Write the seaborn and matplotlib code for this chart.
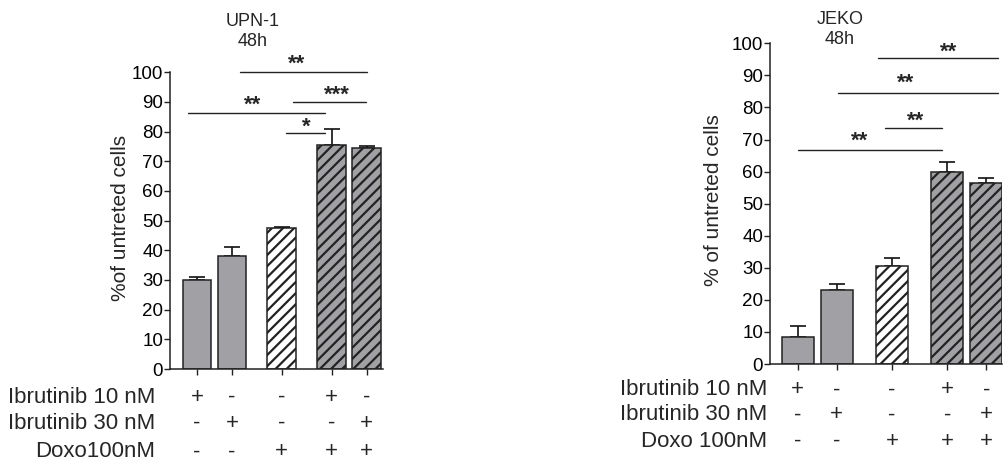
import matplotlib
matplotlib.use("Agg")
import matplotlib.pyplot as plt
import matplotlib.transforms as mtrans
import seaborn as sns
import pandas as pd

sns.set_theme(style="ticks")
plt.rcParams['font.family'] = ['Liberation Sans', 'DejaVu Sans']
plt.rcParams['hatch.linewidth'] = 1.6
plt.rcParams['hatch.color'] = '#111111'

# ---------------- data ----------------
conditions = ["Ibr10", "Ibr30", "Doxo", "Ibr10+Doxo", "Ibr30+Doxo"]
upn_values = [30.0, 38.0, 47.5, 75.5, 74.5]
upn_err = [1.0, 3.0, 0.5, 5.5, 0.5]
jeko_values = [8.5, 23.0, 30.5, 60.0, 56.5]
jeko_err = [3.5, 2.0, 2.5, 3.0, 1.5]

ibr10_signs = ["+", "-", "-", "+", "-"]
ibr30_signs = ["-", "+", "-", "-", "+"]
doxo_signs = ["-", "-", "+", "+", "+"]

upn_row_labels = ["Ibrutinib 10 nM", "Ibrutinib 30 nM", "Doxo100nM"]
jeko_row_labels = ["Ibrutinib 10 nM", "Ibrutinib 30 nM", "Doxo 100nM"]

# significance: (x_start, x_end, y, label, star_x, star_center_y)
upn_sig = [
    (1.23, 4.86, 100.0, "**", 2.85, 103.8),
    (2.73, 4.83, 90.0, "***", 3.99, 93.5),
    (-0.27, 3.66, 86.3, "**", 1.60, 90.0),
    (2.54, 3.66, 79.6, "*", 3.11, 82.6),
]
jeko_sig = [
    (2.07, 5.13, 95.3, "**", 3.86, 98.2),
    (1.04, 5.14, 84.4, "**", 2.78, 88.5),
    (2.24, 3.71, 73.5, "**", 3.03, 76.8),
    (0.02, 3.71, 66.7, "**", 1.60, 70.4),
]

# ---------------- layout ----------------
positions = [0.0, 1.0, 2.42, 3.84, 4.84]
GRAY = "#a1a1a5"
fills = [GRAY, GRAY, "white", GRAY, GRAY]
hatches = ["", "", "///", "///", "///"]
STAR_FS = 16
ROW_FS = 16

fig = plt.figure(figsize=(10.06, 4.65), dpi=100)
W, H = 1006, 465


def ax_rect(x0, x1, ybot, ytop):
    return [x0 / W, 1 - ybot / H, (x1 - x0) / W, (ybot - ytop) / H]


panels = [
    dict(rect=ax_rect(170, 383, 369, 72.3), vals=upn_values, err=upn_err,
         xlim=(-0.77, 5.31), title="UPN-1\n48h", title_xy=(253, 31.5),
         ylabel="%of untreted cells", ylab_x=-0.188, sig=upn_sig,
         rows=upn_row_labels, row_y=[-0.095, -0.184, -0.279], lab_x=-0.070),
    dict(rect=ax_rect(770, 1002, 364, 43.3), vals=jeko_values, err=jeko_err,
         xlim=(-0.71, 5.24), title="JEKO\n48h", title_xy=(840, 29.5),
         ylabel="% of untreted cells", ylab_x=-0.203, sig=jeko_sig,
         rows=jeko_row_labels, row_y=[-0.081, -0.159, -0.241], lab_x=-0.013),
]

for p in panels:
    ax = fig.add_axes(p["rect"])
    df = pd.DataFrame({"pos": positions, "value": p["vals"], "cond": conditions})
    sns.barplot(data=df, x="pos", y="value", hue="cond", palette=fills,
                native_scale=True, width=0.82, dodge=False, legend=False,
                edgecolor="#222222", linewidth=1.1, errorbar=None, ax=ax)
    bars = sorted(ax.patches, key=lambda r: r.get_x())
    for b, h, c in zip(bars, hatches, fills):
        b.set_hatch(h)
        b.set_facecolor(c)
        b.set_zorder(2)
    ax.errorbar(positions, p["vals"], yerr=[[0] * 5, p["err"]], fmt="none",
                ecolor="#111111", elinewidth=1.2, capsize=5.5, capthick=1.2,
                zorder=1)
    ax.set_xlim(*p["xlim"])
    ax.set_ylim(0, 100)
    ax.set_yticks(range(0, 101, 10))
    ax.set_xticks(positions)
    ax.set_xticklabels([])
    ax.set_xlabel("")
    ax.tick_params(axis="y", labelsize=13.5, length=4, width=1, direction="out",
                   pad=1, colors="#222222", labelcolor="black")
    ax.tick_params(axis="x", length=4, width=1, direction="out", colors="#222222")
    for s in ["top", "right"]:
        ax.spines[s].set_visible(False)
    for s in ["left", "bottom"]:
        ax.spines[s].set_linewidth(1.1)
        ax.spines[s].set_color("#222222")
    ax.set_ylabel(p["ylabel"], fontsize=15)
    ax.yaxis.set_label_coords(p["ylab_x"], 0.51)

    # significance bars
    star_tr = mtrans.offset_copy(ax.transData, fig=fig, y=-0.40 * STAR_FS,
                                 units="points")
    for x0, x1, y, lab, tx, ty in p["sig"]:
        ax.plot([x0, x1], [y, y], color="#222222", lw=1.0, clip_on=False)
        ax.text(tx, ty, lab, transform=star_tr, ha="center", va="baseline",
                fontsize=STAR_FS, fontweight="bold", clip_on=False)

    # condition table below
    trans = mtrans.blended_transform_factory(ax.transData, ax.transAxes)
    for rlab, ry, signs in zip(p["rows"], p["row_y"],
                               [ibr10_signs, ibr30_signs, doxo_signs]):
        ax.text(p["lab_x"], ry, rlab, transform=ax.transAxes, ha="right",
                va="center", fontsize=ROW_FS)
        for xp, sgn in zip(positions, signs):
            ax.text(xp, ry, sgn, transform=trans, ha="center", va="center",
                    fontsize=ROW_FS)

    fig.text(p["title_xy"][0] / W, 1 - p["title_xy"][1] / H, p["title"],
             ha="center", va="center", fontsize=13, multialignment="center",
             linespacing=1.3)

fig.savefig("out.png", dpi=100)
